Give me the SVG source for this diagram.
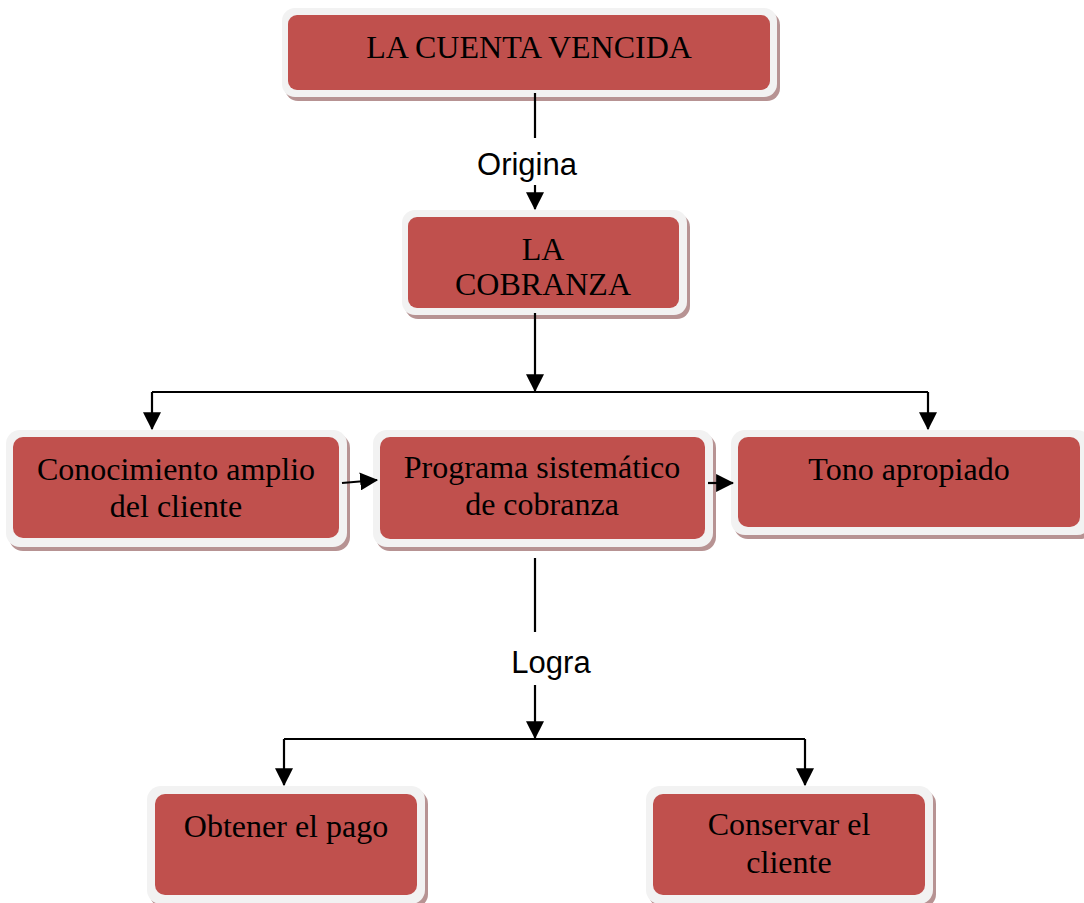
<svg xmlns="http://www.w3.org/2000/svg" width="1084" height="903" viewBox="0 0 1084 903">
  <style>
    .shadow { fill: #b79393; }
    .frame { fill: #f2f2f2; }
    .body { fill: #c0504d; }
    .label { font-family: "Liberation Serif", "Times New Roman", serif; font-size: 32px; fill: #000; text-anchor: middle; }
    .edge-label { font-family: "Liberation Sans", Arial, sans-serif; font-size: 31px; fill: #000; text-anchor: middle; }
    .wire { fill: none; stroke: #000; stroke-width: 2.2; }
  </style>
  <defs>
    <marker id="head" markerUnits="userSpaceOnUse" markerWidth="18" markerHeight="18" viewBox="0 0 16 16" refX="15" refY="8" orient="auto">
      <path d="M0,0 L16,8 L0,16 Z" fill="#000"/>
    </marker>
  </defs>

  <rect width="1084" height="903" fill="#fff"/>

  <!-- Nodes -->
  <g id="node-cuenta">
    <rect class="shadow" x="285" y="12" width="495" height="89" rx="13"/>
    <rect class="frame" x="282" y="8" width="495" height="89" rx="13"/>
    <rect class="body" x="288" y="15" width="482" height="75" rx="9"/>
    <text class="label" x="529" y="58">LA CUENTA VENCIDA</text>
  </g>

  <g id="node-cobranza">
    <rect class="shadow" x="405" y="214" width="285" height="105" rx="13"/>
    <rect class="frame" x="402" y="210" width="285" height="105" rx="13"/>
    <rect class="body" x="408" y="217" width="271" height="91" rx="9"/>
    <text class="label" x="543" y="260">LA</text>
    <text class="label" x="543" y="295">COBRANZA</text>
  </g>

  <g id="node-conocimiento">
    <rect class="shadow" x="9" y="434" width="341" height="117" rx="14"/>
    <rect class="frame" x="6" y="430" width="341" height="117" rx="14"/>
    <rect class="body" x="13" y="437" width="326" height="101" rx="10"/>
    <text class="label" x="176" y="480">Conocimiento amplio</text>
    <text class="label" x="176" y="517">del cliente</text>
  </g>

  <g id="node-programa">
    <rect class="shadow" x="376" y="434" width="340" height="117" rx="14"/>
    <rect class="frame" x="373" y="430" width="340" height="117" rx="14"/>
    <rect class="body" x="380" y="437" width="325" height="102" rx="10"/>
    <text class="label" x="542" y="478">Programa sistemático</text>
    <text class="label" x="542" y="515">de cobranza</text>
  </g>

  <g id="node-tono">
    <rect class="shadow" x="734" y="434" width="360" height="105" rx="14"/>
    <rect class="frame" x="731" y="430" width="360" height="105" rx="14"/>
    <rect class="body" x="738" y="437" width="342" height="90" rx="10"/>
    <text class="label" x="909" y="480">Tono apropiado</text>
  </g>

  <g id="node-pago">
    <rect class="shadow" x="150" y="790" width="278" height="118" rx="14"/>
    <rect class="frame" x="147" y="786" width="278" height="118" rx="14"/>
    <rect class="body" x="155" y="794" width="262" height="101" rx="10"/>
    <text class="label" x="286" y="837">Obtener el pago</text>
  </g>

  <g id="node-conservar">
    <rect class="shadow" x="649" y="790" width="287" height="118" rx="14"/>
    <rect class="frame" x="646" y="786" width="287" height="118" rx="14"/>
    <rect class="body" x="653" y="794" width="272" height="101" rx="10"/>
    <text class="label" x="789" y="835">Conservar el</text>
    <text class="label" x="789" y="873">cliente</text>
  </g>

  <!-- Connectors -->
  <g id="connectors">
    <path class="wire" d="M535,93 V138"/>
    <text class="edge-label" x="527" y="175">Origina</text>
    <path class="wire" d="M535,185 V209" marker-end="url(#head)"/>

    <path class="wire" d="M535,313 V391" marker-end="url(#head)"/>
    <path class="wire" d="M152,392 H928"/>
    <path class="wire" d="M152,392 V429" marker-end="url(#head)"/>
    <path class="wire" d="M928,392 V429" marker-end="url(#head)"/>

    <path class="wire" d="M342,483 L377,480" marker-end="url(#head)"/>
    <path class="wire" d="M708,483 L733,483" marker-end="url(#head)"/>

    <path class="wire" d="M535,558 V632"/>
    <text class="edge-label" x="551" y="673">Logra</text>
    <path class="wire" d="M535,685 V738" marker-end="url(#head)"/>
    <path class="wire" d="M284,739 H805"/>
    <path class="wire" d="M284,739 V785" marker-end="url(#head)"/>
    <path class="wire" d="M805,739 V785" marker-end="url(#head)"/>
  </g>
</svg>
